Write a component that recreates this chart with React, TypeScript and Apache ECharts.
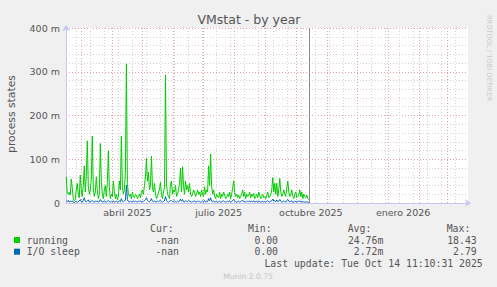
import React, { useEffect, useRef } from 'react';
import * as echarts from 'echarts';

// ---- data (values in milli "process states") ----
const firstDay = '2025-02-14';
const axisStart = '2025-02-13T18';
const axisEnd = '2026-03-21T18';
const lastUpdate = '2025-10-14T11';

const running = [
  60, 22, 20, 25, 18, 55, 35,
  10, 5, 8, 30, 45, 20, 12,
  64, 30, 15, 40, 85, 25, 60,
  142, 40, 20, 30, 55, 153, 35,
  15, 25, 60, 30, 10, 20, 136,
  50, 20, 10, 30, 40, 15, 45,
  119, 35, 10, 20, 15, 50, 25,
  10, 20, 8, 15, 50, 30, 153,
  40, 20, 30, 70, 318, 45, 20,
  15, 20, 10, 25, 15, 12, 20,
  18, 10, 15, 20, 12, 25, 30,
  20, 40, 60, 102, 50, 70, 30,
  40, 107, 35, 25, 45, 20, 10,
  15, 25, 30, 47, 20, 10, 25,
  35, 293, 45, 20, 15, 10, 45,
  50, 20, 30, 25, 40, 15, 20,
  30, 45, 80, 25, 83, 40, 20,
  50, 30, 40, 25, 45, 20, 15,
  20, 30, 25, 15, 20, 30, 20,
  25, 15, 30, 20, 15, 37, 20,
  30, 25, 85, 40, 112, 40, 20,
  30, 15, 10, 20, 15, 12, 25,
  10, 20, 15, 25, 18, 10, 12,
  20, 15, 25, 10, 20, 35, 51,
  25, 15, 20, 12, 18, 10, 15,
  20, 30, 15, 25, 10, 20, 15,
  18, 25, 12, 20, 15, 22, 10,
  15, 20, 12, 25, 18, 10, 15,
  20, 12, 15, 10, 18, 25, 12,
  15, 20, 30, 58, 25, 45, 20,
  45, 15, 30, 56, 25, 15, 20,
  30, 20, 15, 35, 50, 25, 15,
  20, 30, 15, 10, 20, 25, 12,
  15, 20, 30, 15, 25, 10, 20,
  15, 12, 18, 10, 8,
];

const ioSleep = [
  5, 3, 6, 2, 4, 3, 5,
  2, 1, 3, 4, 2, 3, 5,
  8, 3, 2, 6, 12, 4, 3,
  5, 7, 2, 3, 4, 6, 3,
  2, 4, 3, 5, 2, 3, 8,
  4, 3, 2, 5, 3, 2, 4,
  6, 3, 2, 4, 3, 5, 2,
  3, 4, 2, 3, 5, 3, 10,
  4, 3, 5, 6, 41, 8, 3,
  2, 4, 3, 2, 5, 3, 4,
  3, 2, 4, 3, 5, 2, 3,
  4, 5, 8, 12, 6, 4, 3,
  5, 10, 4, 3, 5, 2, 3,
  4, 3, 5, 6, 3, 2, 4,
  5, 15, 6, 3, 2, 4, 5,
  6, 3, 4, 5, 3, 2, 4,
  3, 5, 9, 4, 8, 3, 2,
  5, 4, 3, 6, 4, 3, 2,
  3, 4, 5, 2, 3, 4, 3,
  4, 2, 3, 5, 3, 6, 2,
  4, 3, 10, 5, 12, 4, 3,
  5, 2, 3, 4, 2, 3, 4,
  2, 3, 4, 5, 3, 2, 3,
  4, 3, 5, 2, 3, 6, 8,
  4, 3, 2, 3, 4, 2, 3,
  5, 6, 3, 4, 2, 3, 4,
  3, 5, 2, 4, 3, 5, 2,
  3, 4, 2, 5, 3, 2, 3,
  4, 2, 3, 2, 4, 5, 3,
  2, 4, 5, 9, 4, 6, 3,
  7, 3, 4, 8, 4, 2, 3,
  5, 3, 2, 6, 8, 4, 3,
  4, 5, 2, 2, 3, 4, 2,
  3, 4, 5, 2, 4, 2, 3,
  2, 2, 3, 2, 1,
];

const monthLines = [
  '2025-03-01', '2025-04-01', '2025-05-01', '2025-06-01', '2025-07-01', '2025-08-01',
  '2025-09-01', '2025-10-01', '2025-11-01', '2025-12-01', '2026-01-01', '2026-02-01', '2026-03-01',
];
const minorLines = [
  '2025-02-24', '2025-03-10', '2025-03-24', '2025-04-07', '2025-04-21', '2025-05-05', '2025-05-19',
  '2025-06-02', '2025-06-16', '2025-06-30', '2025-07-14', '2025-07-28', '2025-08-11', '2025-08-25',
  '2025-09-08', '2025-09-22', '2025-10-06', '2025-10-20', '2025-11-03', '2025-11-17', '2025-12-01',
  '2025-12-15', '2025-12-29', '2026-01-12', '2026-01-26', '2026-02-09', '2026-02-23', '2026-03-09',
];
const xLabelDates = ['2025-04-16', '2025-07-16', '2025-10-16', '2026-01-16'];
const xLabels = ['abril 2025', 'julio 2025', 'octubre 2025', 'enero 2026'];

const legendRows = [
  { name: 'running', color: '#00CC00', cur: '-nan', min: '0.00', avg: '24.76m', max: '18.43' },
  { name: 'I/O sleep', color: '#0066B3', cur: '-nan', min: '0.00', avg: '2.72m', max: '2.79' },
];

const ts = (s: string) => {
  const [d, h] = s.split('T');
  const [y, m, dd] = d.split('-').map(Number);
  return new Date(y, m - 1, dd, h ? Number(h) : 0, h ? 10 : 0).getTime();
};
const DAY = 86400000;

export default function App() {
  const ref = useRef<HTMLDivElement>(null);
  useEffect(() => {
    if (!ref.current) return;
    const chart = echarts.init(ref.current, undefined, { renderer: 'svg' });
    const t0 = ts(firstDay);
    const runData = running.map((v, i) => [t0 + i * DAY, v]);
    const ioData = ioSleep.map((v, i) => [t0 + i * DAY, v]);

    const mono = 'DejaVu Sans Mono';
    const textColor = '#555';
    const monoFont = `9.8px "${mono}"`;
    const cols = { curL: 150, curR: 179, minL: 248, minR: 278, avgL: 347.7, avgR: 383.3, maxL: 446.7, maxR: 476.7 };
    const rowY = [240, 251.7];
    const txt = (text: string, x: number, y: number, align: string, font = monoFont, fill = textColor, rotation = 0) => ({
      type: 'text', x, y, rotation, style: { text, fill, font, textAlign: align, textVerticalAlign: 'middle' },
    });
    const graphics: any[] = [
      txt('VMstat - by year', 249, 19, 'center', '12.5px "DejaVu Sans"'),
      txt('process states', 11, 114, 'center', '10.8px "DejaVu Sans"', textColor, Math.PI / 2),
      txt('RRDTOOL / TOBI OETIKER', 488.5, 58, 'center', '6.7px "DejaVu Sans"', '#c8c8c8', -Math.PI / 2),
      txt('Munin 2.0.75', 248, 276, 'center', '7.6px "DejaVu Sans"', '#c4c4c4'),
      txt('Cur:', cols.curL, 228.3, 'left'),
      txt('Min:', cols.minL, 228.3, 'left'),
      txt('Avg:', cols.avgL, 228.3, 'left'),
      txt('Max:', cols.maxL, 228.3, 'left'),
      txt('Last update: Tue Oct 14 11:10:31 2025', 482.7, 263.3, 'right'),
    ];
    legendRows.forEach((r, i) => {
      const y = rowY[i];
      graphics.push(
        { type: 'rect', shape: { x: 14, y: y - 3, width: 6, height: 6 }, style: { fill: r.color } },
        txt(r.name, 26.7, y, 'left'),
        txt(r.cur, cols.curR, y, 'right'),
        txt(r.min, cols.minR, y, 'right'),
        txt(r.avg, cols.avgR, y, 'right'),
        txt(r.max, cols.maxR, y, 'right'),
      );
    });

    const axisColor = '#c6c6f2';
    chart.setOption({
      animation: false,
      backgroundColor: '#f0f0f0',
      grid: { left: 66, right: 29, top: 28, bottom: 84, show: true, backgroundColor: '#ffffff', borderWidth: 0 },
      xAxis: {
        type: 'time',
        min: ts(axisStart),
        max: ts(axisEnd),
        axisLine: { show: true, lineStyle: { color: axisColor, width: 1 }, symbol: ['none', 'arrow'], symbolSize: [6, 6], symbolOffset: [0, 3] },
        axisTick: { show: false },
        splitLine: { show: false },
        axisLabel: { show: false },
      },
      yAxis: {
        type: 'value',
        min: 0,
        max: 400,
        interval: 100,
        axisLine: { show: true, lineStyle: { color: axisColor, width: 1 }, symbol: ['none', 'arrow'], symbolSize: [6, 6], symbolOffset: [0, 3] },
        axisTick: { show: false },
        axisLabel: {
          formatter: (v: number) => (v === 0 ? '0' : `${v} m`),
          color: textColor,
          fontFamily: 'DejaVu Sans',
          fontSize: 9.5,
          margin: 6,
        },
        splitLine: { show: true, lineStyle: { color: '#e8a0a0', type: [1, 2], width: 1 } },
        minorTick: { show: false, splitNumber: 5 },
        minorSplitLine: { show: true, lineStyle: { color: '#d2d2d2', type: [1, 2], width: 1 } },
      },
      graphic: graphics,
      series: [
        {
          type: 'line',
          name: 'grid',
          data: [],
          z: 1,
          silent: true,
          markLine: {
            silent: true,
            symbol: ['none', 'none'],
            z: 1,
            label: { show: false },
            data: [
              ...minorLines.map((d) => ({ xAxis: ts(d), lineStyle: { color: '#d2d2d2', type: [1, 2], width: 1 } })),
              ...monthLines.map((d) => ({ xAxis: ts(d), lineStyle: { color: '#e8a0a0', type: [1, 2], width: 1 } })),
            ],
          },
        },
        {
          type: 'line',
          name: 'xlabels',
          data: [],
          z: 1,
          silent: true,
          markLine: {
            silent: true,
            symbol: ['none', 'none'],
            z: 1,
            lineStyle: { color: 'rgba(0,0,0,0)', width: 1 },
            label: {
              show: true,
              position: 'start',
              distance: 4,
              color: textColor,
              fontFamily: 'DejaVu Sans',
              fontSize: 9.5,
            },
            data: xLabelDates.map((d, i) => ({ xAxis: ts(d), label: { formatter: xLabels[i] } })),
          },
        },
        {
          type: 'line',
          name: 'running',
          data: runData,
          showSymbol: false,
          z: 3,
          lineStyle: { color: '#00CC00', width: 1 },
          itemStyle: { color: '#00CC00' },
        },
        {
          type: 'line',
          name: 'I/O sleep',
          data: ioData,
          showSymbol: false,
          z: 4,
          lineStyle: { color: '#0066B3', width: 1 },
          itemStyle: { color: '#0066B3' },
        },
        {
          type: 'line',
          name: 'now',
          data: [],
          z: 5,
          silent: true,
          markLine: {
            silent: true,
            symbol: ['none', 'none'],
            label: { show: false },
            data: [{ xAxis: ts(lastUpdate), lineStyle: { color: '#8a8a8a', type: 'solid', width: 1 } }],
          },
        },
      ],
    });
    return () => chart.dispose();
  }, []);
  return <div ref={ref} style={{ width: 497, height: 287, position: 'absolute', left: 0, top: 0 }} />;
}
